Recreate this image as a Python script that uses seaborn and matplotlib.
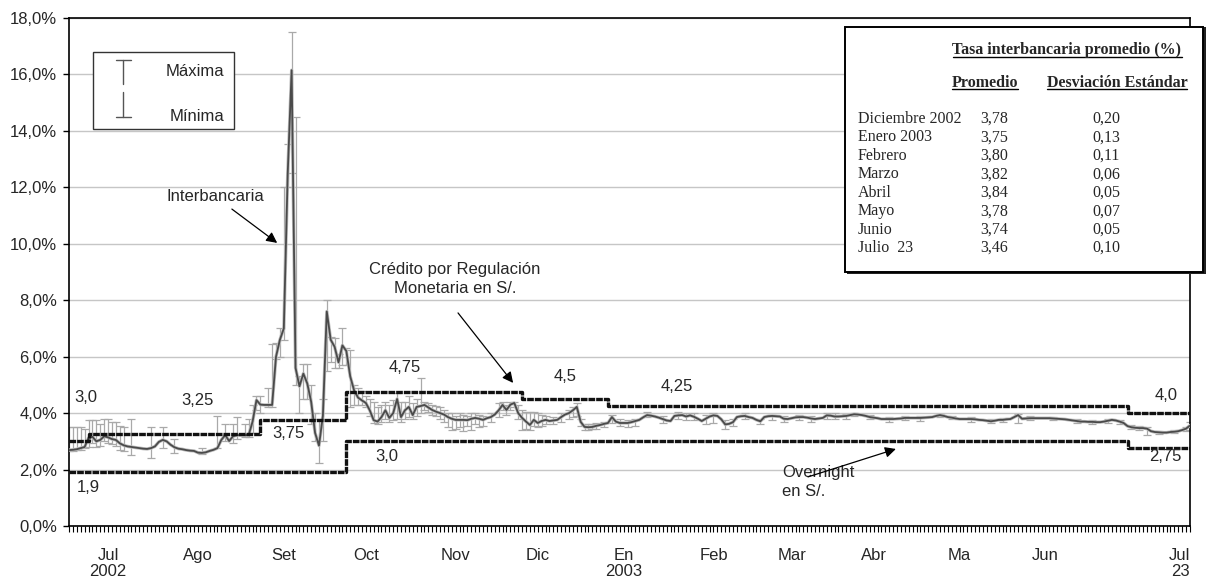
import numpy as np
import pandas as pd
import matplotlib
matplotlib.use("Agg")
import matplotlib.pyplot as plt
import seaborn as sns
from matplotlib.ticker import FuncFormatter
from matplotlib.patches import Rectangle
from matplotlib.lines import Line2D

# ---------------- data ----------------
start_day = "2002-06-17"
end_day = "2003-07-23"

# daily interbank rate (%), one value per business day
interbank = [
    2.69, 2.70, 2.72, 2.76, 2.80, 3.12, 3.16, 3.00, 3.05, 3.18,
    3.14, 3.08, 3.05, 2.93, 2.86, 2.82, 2.80, 2.78, 2.76, 2.74,
    2.73, 2.76, 2.82, 2.98, 3.05, 3.00, 2.88, 2.79, 2.74, 2.72,
    2.69, 2.67, 2.66, 2.60, 2.59, 2.61, 2.66, 2.70, 2.76, 3.05,
    3.22, 3.01, 3.18, 3.22, 3.22, 3.22, 3.22, 3.70, 4.46, 4.30,
    4.29, 4.29, 4.29, 6.00, 6.60, 7.00, 12.50, 16.15, 5.60, 4.95,
    5.40, 5.05, 4.40, 3.30, 2.85, 3.90, 7.60, 6.60, 6.35, 5.80,
    6.40, 6.20, 5.30, 4.80, 4.55, 4.45, 4.36, 4.10, 3.75, 3.70,
    3.86, 4.10, 3.83, 4.00, 4.50, 3.86, 4.10, 4.22, 3.93, 4.22,
    4.25, 4.29, 4.20, 4.11, 4.05, 4.00, 3.95, 3.86, 3.80, 3.76,
    3.76, 3.76, 3.75, 3.80, 3.83, 3.80, 3.76, 3.82, 3.86, 3.95,
    4.10, 4.29, 4.11, 4.30, 4.36, 4.00, 3.83, 3.70, 3.58, 3.76,
    3.65, 3.72, 3.76, 3.72, 3.74, 3.76, 3.86, 3.95, 4.00, 4.10,
    4.22, 3.69, 3.51, 3.50, 3.51, 3.55, 3.58, 3.62, 3.65, 3.86,
    3.70, 3.65, 3.65, 3.65, 3.68, 3.72, 3.76, 3.85, 3.93, 3.91,
    3.88, 3.84, 3.79, 3.74, 3.72, 3.90, 3.92, 3.93, 3.88, 3.92,
    3.87, 3.80, 3.72, 3.80, 3.88, 3.92, 3.90, 3.78, 3.60, 3.62,
    3.68, 3.86, 3.89, 3.90, 3.86, 3.83, 3.76, 3.71, 3.86, 3.89,
    3.90, 3.89, 3.88, 3.80, 3.79, 3.82, 3.85, 3.86, 3.86, 3.84,
    3.81, 3.79, 3.81, 3.83, 3.92, 3.91, 3.88, 3.88, 3.89, 3.90,
    3.93, 3.96, 3.95, 3.93, 3.90, 3.86, 3.84, 3.82, 3.79, 3.79,
    3.79, 3.79, 3.80, 3.81, 3.83, 3.83, 3.83, 3.83, 3.83, 3.84,
    3.85, 3.86, 3.90, 3.93, 3.90, 3.86, 3.84, 3.81, 3.79, 3.79,
    3.79, 3.79, 3.78, 3.76, 3.75, 3.73, 3.71, 3.73, 3.76, 3.76,
    3.78, 3.79, 3.86, 3.93, 3.80, 3.81, 3.82, 3.82, 3.82, 3.82,
    3.82, 3.82, 3.81, 3.80, 3.79, 3.78, 3.76, 3.74, 3.72, 3.70,
    3.70, 3.69, 3.69, 3.68, 3.68, 3.70, 3.73, 3.76, 3.74, 3.70,
    3.65, 3.54, 3.50, 3.48, 3.47, 3.47, 3.45, 3.36, 3.33, 3.32,
    3.31, 3.31, 3.33, 3.34, 3.36, 3.40, 3.45, 3.56,
]

# daily maximum / minimum (error bars), business-day number
eb_day = [0, 1, 2, 3, 4, 5, 6, 7, 8, 9, 10, 11, 12, 13, 14, 16, 21, 24, 27, 34,
          38, 40, 42, 43, 45, 46, 47, 48, 49, 51, 52, 53, 54, 55, 56, 57, 58, 59,
          60, 61, 62, 63, 64, 65, 66, 67, 68, 69, 70, 71, 72, 73, 74, 75, 76, 77,
          78, 79, 80, 81, 82, 83, 84, 85, 86, 87, 88, 89, 90, 91, 92, 93, 94, 95,
          96, 97, 98, 99, 100, 101, 102, 103, 104, 105, 106, 108, 110, 111, 112,
          113, 114, 115, 116, 117, 118, 119, 120, 121, 122, 124, 126, 128, 129,
          130, 131, 132, 133, 134, 135, 137, 139, 141, 143, 145, 148, 152, 156,
          158, 160, 163, 165, 168, 170, 173, 177, 180, 183, 187, 190, 194, 196,
          199, 201, 205, 210, 214, 218, 223, 226, 231, 236, 239, 243, 246, 252,
          258, 262, 266, 269, 272, 274, 276, 279, 283, 286, 287]
eb_max = [3.50, 3.50, 3.50, 3.50, 3.45, 3.75, 3.75, 3.75, 3.60, 3.78, 3.78, 3.70,
          3.70, 3.55, 3.50, 3.80, 3.50, 3.50, 3.10, 2.75, 3.90, 3.60, 3.60, 3.85,
          3.60, 3.80, 4.30, 4.60, 4.60, 4.90, 6.45, 6.50, 7.00, 12.00, 13.55,
          17.50, 14.50, 5.30, 5.75, 5.75, 5.00, 4.00, 3.80, 4.50, 8.00, 6.70,
          6.65, 6.10, 7.00, 6.30, 6.25, 5.00, 4.90, 4.80, 4.60, 4.50, 4.40, 4.20,
          4.30, 4.40, 4.30, 4.45, 4.70, 4.40, 4.40, 4.60, 4.35, 4.50, 5.25, 4.40,
          4.35, 4.30, 4.25, 4.20, 4.10, 4.00, 4.00, 3.90, 4.00, 3.95, 3.90, 4.00,
          4.00, 3.95, 3.90, 4.00, 4.35, 4.40, 4.30, 4.40, 4.40, 4.30, 4.10, 4.05,
          4.05, 4.05, 4.00, 3.95, 3.90, 3.85, 4.00, 4.10, 4.20, 4.35, 3.80, 3.62,
          3.60, 3.62, 3.65, 3.70, 3.95, 3.80, 3.75, 3.80, 4.05, 3.90, 4.05, 4.00,
          4.00, 3.95, 4.00, 3.75, 3.80, 4.00, 3.80, 3.95, 3.90, 3.95, 3.90, 4.00,
          4.00, 3.98, 4.00, 3.92, 3.85, 3.88, 3.88, 3.98, 3.90, 3.85, 3.78, 3.82,
          3.98, 3.88, 3.86, 3.78, 3.75, 3.80, 3.76, 3.58, 3.55, 3.52, 3.38, 3.40,
          3.50, 3.70]
eb_min = [2.65, 2.65, 2.68, 2.70, 2.75, 2.80, 2.95, 2.80, 2.85, 3.00, 2.95, 2.90,
          2.85, 2.70, 2.65, 2.50, 2.40, 2.75, 2.60, 2.55, 2.75, 3.00, 2.95, 3.10,
          3.15, 3.15, 3.30, 4.10, 4.00, 4.20, 4.20, 5.90, 6.00, 6.60, 12.00,
          12.50, 5.00, 4.00, 4.50, 4.50, 3.60, 3.00, 2.25, 3.00, 5.50, 5.80,
          5.60, 5.60, 5.70, 5.70, 4.20, 4.30, 4.30, 4.30, 4.20, 3.90, 3.65, 3.60,
          3.70, 3.80, 3.70, 3.75, 3.80, 3.70, 3.80, 3.85, 3.80, 3.90, 4.00, 4.10,
          4.05, 3.95, 3.90, 3.80, 3.70, 3.50, 3.40, 3.45, 3.50, 3.35, 3.55, 3.40,
          3.60, 3.50, 3.55, 3.70, 3.85, 4.10, 3.95, 4.10, 4.20, 3.80, 3.40, 3.45,
          3.40, 3.55, 3.50, 3.55, 3.60, 3.60, 3.70, 3.80, 3.85, 3.90, 3.55, 3.40,
          3.40, 3.42, 3.45, 3.50, 3.65, 3.55, 3.50, 3.55, 3.85, 3.65, 3.80, 3.75,
          3.75, 3.60, 3.65, 3.45, 3.55, 3.80, 3.60, 3.75, 3.70, 3.75, 3.70, 3.80,
          3.80, 3.80, 3.88, 3.78, 3.70, 3.76, 3.72, 3.85, 3.78, 3.70, 3.65, 3.68,
          3.65, 3.75, 3.75, 3.65, 3.62, 3.65, 3.60, 3.42, 3.40, 3.22, 3.25, 3.28,
          3.38, 3.40]

# policy rates (%): date of each change and new level
credit_change = ["2002-06-17", "2002-06-24", "2002-08-23", "2002-09-24",
                 "2002-11-26", "2002-12-26", "2003-07-01"]
credit_rate = [3.0, 3.25, 3.75, 4.75, 4.5, 4.25, 4.0]
overnight_change = ["2002-06-17", "2002-09-24", "2003-07-01"]
overnight_rate = [1.9, 3.0, 2.75]

month_labels = ["Jul\n2002", "Ago", "Set", "Oct", "Nov", "Dic", "En\n2003",
                "Feb", "Mar", "Abr", "Ma", "Jun", "Jul\n23"]

table_months = ["Diciembre 2002", "Enero 2003", "Febrero", "Marzo", "Abril",
                "Mayo", "Junio", "Julio  23"]
table_mean = ["3,78", "3,75", "3,80", "3,82", "3,84", "3,78", "3,74", "3,46"]
table_sd = ["0,20", "0,13", "0,11", "0,06", "0,05", "0,07", "0,05", "0,10"]

# ---------------- figure ----------------
sns.set_style("white")
plt.rcParams['font.family'] = ['Liberation Sans', 'DejaVu Sans']
SERIF = ['Liberation Serif', 'DejaVu Serif']

W, H = 1206, 581
fig = plt.figure(figsize=(W / 100, H / 100), dpi=100)
fig.patch.set_facecolor('white')
ax = fig.add_axes([69 / W, (H - 526) / H, 1121 / W, 508 / H])


def fx(x):
    return x / W


def fy(y):
    return 1 - y / H


days = pd.bdate_range(start_day, end_day)
pos = np.arange(len(days))
vals = np.array(interbank)
assert len(vals) == len(days)

# error bars (max / min)
ebd = np.array(eb_day)
center = vals[ebd]
lo = np.maximum(center - np.array(eb_min), 0)
hi = np.maximum(np.array(eb_max) - center, 0)
ax.errorbar(pos[ebd], center, yerr=[lo, hi], fmt='none', ecolor='#a9a9a9',
            elinewidth=0.9, capsize=3, capthick=0.9, zorder=2)

# interbank line
sns.lineplot(x=pos, y=vals, ax=ax, color='#bdbdbd', lw=2.4, zorder=3)
sns.lineplot(x=pos, y=vals, ax=ax, color='#4a4a4a', lw=1.3, zorder=4)


def step_line(change, rate):
    p = list(days.get_indexer(pd.to_datetime(change)))
    xs = p + [pos[-1]]
    ys = list(rate) + [rate[-1]]
    sns.lineplot(x=xs, y=ys, ax=ax, drawstyle='steps-post', color='#111111',
                 lw=2.4, estimator=None, sort=False, zorder=5,
                 linestyle=(0, (2.0, 0.3)))


step_line(credit_change, credit_rate)
step_line(overnight_change, overnight_rate)

# axes styling
ax.set_xlim(0, pos[-1])
ax.set_ylim(0, 18)
ax.set_yticks(np.arange(0, 18.1, 2))
ax.yaxis.set_major_formatter(FuncFormatter(lambda v, p: f"{v:.1f}%".replace('.', ',')))
ax.yaxis.grid(True, color='#c6c6c6', lw=1)
ax.xaxis.grid(False)
ax.set_axisbelow(True)
for s in ax.spines.values():
    s.set_visible(True)
    s.set_color('black')
    s.set_linewidth(1.2)

month_start = days.to_series().groupby(days.to_period('M')).head(1)
tick_pos = list(days.get_indexer(month_start.index[1:13])) + [pos[-1]]
ax.set_xticks(tick_pos)
ax.set_xticklabels(month_labels, fontsize=12, linespacing=1.05)
ax.set_xticks(pos, minor=True)
lab = ax.get_xticklabels()
lab[-1].set_horizontalalignment('right')
lab[-1].set_multialignment('right')
ax.tick_params(axis='x', which='both', direction='out', length=4, width=0.8,
               color='black', pad=12, bottom=True)
ax.tick_params(axis='y', which='major', direction='out', length=4, width=1,
               color='black', pad=4.5, labelsize=12, left=True)
ax.set_xlabel('')
ax.set_ylabel('')

# rate labels
tk = dict(fontsize=12, ha='center', va='center', zorder=7)
ax.text(4.4, 4.54, "3,0", **tk)
ax.text(32.8, 4.46, "3,25", **tk)
ax.text(56.1, 3.26, "3,75", **tk)
ax.text(4.9, 1.38, "1,9", **tk)
ax.text(86.0, 5.60, "4,75", **tk)
ax.text(127.0, 5.28, "4,5", **tk)
ax.text(81.4, 2.45, "3,0", **tk)
ax.text(155.6, 4.93, "4,25", **tk)
ax.text(281.0, 4.64, "4,0", **tk)
ax.text(280.6, 2.45, "2,75", **tk)

arr = dict(arrowstyle='-|>', color='black', lw=0.9, mutation_scale=16,
           shrinkA=0, shrinkB=0)
ax.text(37.6, 11.69, "Interbancaria", fontsize=12, ha='center', va='center', zorder=7)
ax.annotate("", xy=(53.3, 10.03), xytext=(41.7, 11.23), arrowprops=arr, zorder=7)
ax.text(98.8, 8.75, "Crédito por Regulación\nMonetaria en S/.", fontsize=12,
        ha='center', va='center', linespacing=1.3, zorder=7)
ax.annotate("", xy=(113.7, 5.07), xytext=(99.6, 7.55), arrowprops=arr, zorder=7)
ax.text(182.5, 1.56, "Overnight\nen S/.", fontsize=12, ha='left', va='center',
        linespacing=1.3, zorder=7)
ax.annotate("", xy=(211.7, 2.73), xytext=(189.2, 1.74), arrowprops=arr, zorder=7)

# legend box (Máxima / Mínima)
fig.add_artist(Rectangle((fx(93), fy(129)), fx(234) - fx(93), fy(52) - fy(129),
                         transform=fig.transFigure, facecolor='white',
                         edgecolor='#333333', lw=1.0, zorder=10))
lc = '#555555'
for xs_, ys_ in [([123, 123], [60, 84]), ([116, 131], [60, 60]),
                 ([123, 123], [92, 117]), ([116, 131], [117, 117])]:
    fig.add_artist(Line2D([fx(v) for v in xs_], [fy(v) for v in ys_],
                          transform=fig.transFigure, color=lc, lw=1.0, zorder=11))
fig.text(fx(224), fy(71), "Máxima", fontsize=12, ha='right', va='center', zorder=11)
fig.text(fx(224), fy(117), "Mínima", fontsize=12, ha='right', va='center', zorder=11)

# statistics table box
fig.add_artist(Rectangle((fx(847), fy(274)), fx(1206) - fx(847), fy(27) - fy(274),
                         transform=fig.transFigure, facecolor='#222222',
                         edgecolor='none', zorder=10))
fig.add_artist(Rectangle((fx(845), fy(272)), fx(1203) - fx(845), fy(27) - fy(272),
                         transform=fig.transFigure, facecolor='white',
                         edgecolor='black', lw=1.4, zorder=11))
TFS = 11.5
t_title = fig.text(fx(1067), fy(50), "Tasa interbancaria promedio (%)",
                   family=SERIF, fontsize=TFS, fontweight='bold',
                   ha='center', va='center', zorder=12)
t_prom = fig.text(fx(985), fy(83), "Promedio", family=SERIF, fontsize=TFS,
                  fontweight='bold', ha='center', va='center', zorder=12)
t_desv = fig.text(fx(1117), fy(83), "Desviación Estándar", family=SERIF,
                  fontsize=TFS, fontweight='bold', ha='center', va='center',
                  zorder=12)
row_gap = (248 - 119) / (len(table_months) - 1)
for i, (m, a, s) in enumerate(zip(table_months, table_mean, table_sd)):
    yy = fy(119 + i * row_gap)
    fig.text(fx(858), yy, m, family=SERIF, fontsize=TFS, ha='left', va='center', zorder=12)
    fig.text(fx(994), yy, a, family=SERIF, fontsize=TFS, ha='center', va='center', zorder=12)
    fig.text(fx(1106), yy, s, family=SERIF, fontsize=TFS, ha='center', va='center', zorder=12)

fig.canvas.draw()
rend = fig.canvas.get_renderer()
for t in (t_title, t_prom, t_desv):
    bb = t.get_window_extent(rend)
    yline = bb.y0 + 1.5
    fig.add_artist(Line2D([bb.x0 / W, bb.x1 / W], [yline / H, yline / H],
                          transform=fig.transFigure, color='black', lw=1.0, zorder=12))

fig.savefig("out.png", dpi=100, facecolor='white')
